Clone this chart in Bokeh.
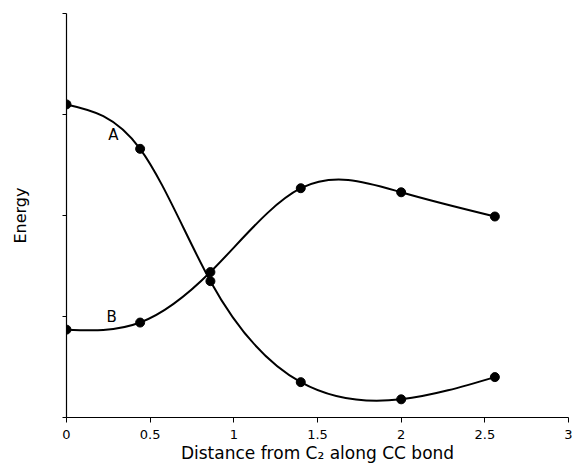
import numpy as np
from bokeh.plotting import figure
from bokeh.models import FixedTicker, Range1d, Label
from bokeh.embed import file_html
from bokeh.resources import INLINE

# ---- data ----
x_vals = [0.0, 0.44, 0.86, 1.40, 2.00, 2.56]
curve_a = [3.10, 2.66, 1.35, 0.35, 0.18, 0.40]
curve_b = [0.87, 0.94, 1.44, 2.27, 2.23, 1.99]
x_ticks = [0, 0.5, 1, 1.5, 2, 2.5, 3]
x_tick_labels = ["0", "0.5", "1", "1.5", "2", "2.5", "3"]
y_ticks = [0, 1, 2, 3, 4]
label_a = ("A", 0.28, 2.80)
label_b = ("B", 0.27, 1.00)

FONT = "DejaVu Sans"


def natural_spline_beziers(xs, ys):
    """Exact Bezier representation of the natural cubic spline through the points."""
    xs = np.asarray(xs, float)
    ys = np.asarray(ys, float)
    n = len(xs)
    h = np.diff(xs)
    A = np.zeros((n, n))
    r = np.zeros(n)
    A[0, 0] = 1
    A[-1, -1] = 1
    for i in range(1, n - 1):
        A[i, i - 1] = h[i - 1]
        A[i, i] = 2 * (h[i - 1] + h[i])
        A[i, i + 1] = h[i]
        r[i] = 6 * ((ys[i + 1] - ys[i]) / h[i] - (ys[i] - ys[i - 1]) / h[i - 1])
    M = np.linalg.solve(A, r)
    segs = dict(x0=[], y0=[], x1=[], y1=[], cx0=[], cy0=[], cx1=[], cy1=[])
    for i in range(n - 1):
        hi = h[i]
        s = (ys[i + 1] - ys[i]) / hi
        d0 = s - hi * (2 * M[i] + M[i + 1]) / 6
        d1 = s + hi * (M[i] + 2 * M[i + 1]) / 6
        segs["x0"].append(xs[i]); segs["y0"].append(ys[i])
        segs["x1"].append(xs[i + 1]); segs["y1"].append(ys[i + 1])
        segs["cx0"].append(xs[i] + hi / 3); segs["cy0"].append(ys[i] + d0 * hi / 3)
        segs["cx1"].append(xs[i + 1] - hi / 3); segs["cy1"].append(ys[i + 1] - d1 * hi / 3)
    return segs


p = figure(width=572, height=465, output_backend="svg", toolbar_location=None,
           x_range=Range1d(0, 3), y_range=Range1d(0, 4),
           min_border_left=66, min_border_right=4, min_border_top=13, min_border_bottom=10)
p.outline_line_color = None
p.grid.visible = False
p.background_fill_color = "white"
p.border_fill_color = "white"

for ys in (curve_a, curve_b):
    seg = natural_spline_beziers(x_vals, ys)
    p.bezier(x0=seg["x0"], y0=seg["y0"], x1=seg["x1"], y1=seg["y1"],
             cx0=seg["cx0"], cy0=seg["cy0"], cx1=seg["cx1"], cy1=seg["cy1"],
             line_color="black", line_width=2)
    p.scatter(x_vals, ys, size=9, color="black")

for txt, lx, ly in (label_a, label_b):
    p.add_layout(Label(x=lx, y=ly, text=txt, text_font=FONT, text_font_size="15px",
                       text_color="black", text_align="center", text_baseline="middle"))

# x axis
p.xaxis.ticker = FixedTicker(ticks=x_ticks)
p.xaxis.major_label_overrides = {t: l for t, l in zip(x_ticks, x_tick_labels)}
p.xaxis.axis_label = "Distance from C\u2082 along CC bond"
p.xaxis.minor_tick_line_color = None
p.xaxis.major_tick_in = 0
p.xaxis.major_tick_out = 5
p.xaxis.major_label_standoff = 7
p.xaxis.axis_label_standoff = 1
p.xaxis.major_label_text_font = FONT
p.xaxis.major_label_text_font_size = "13px"
p.xaxis.axis_label_text_font = FONT
p.xaxis.axis_label_text_font_size = "17px"
p.xaxis.axis_label_text_font_style = "normal"

# y axis
p.yaxis.ticker = FixedTicker(ticks=y_ticks)
p.yaxis.major_label_overrides = {t: "" for t in y_ticks}
p.yaxis.axis_label = "Energy"
p.yaxis.minor_tick_line_color = None
p.yaxis.major_tick_in = 0
p.yaxis.major_tick_out = 4
p.yaxis.axis_label_standoff = 33
p.yaxis.axis_label_text_font = FONT
p.yaxis.axis_label_text_font_size = "16px"
p.yaxis.axis_label_text_font_style = "normal"

for ax in (p.xaxis, p.yaxis):
    ax.axis_line_color = "black"
    ax.axis_line_width = 1.2
    ax.major_tick_line_color = "black"
    ax.major_label_text_color = "black"
    ax.axis_label_text_color = "black"

open("out.html", "w").write(file_html(p, INLINE))
